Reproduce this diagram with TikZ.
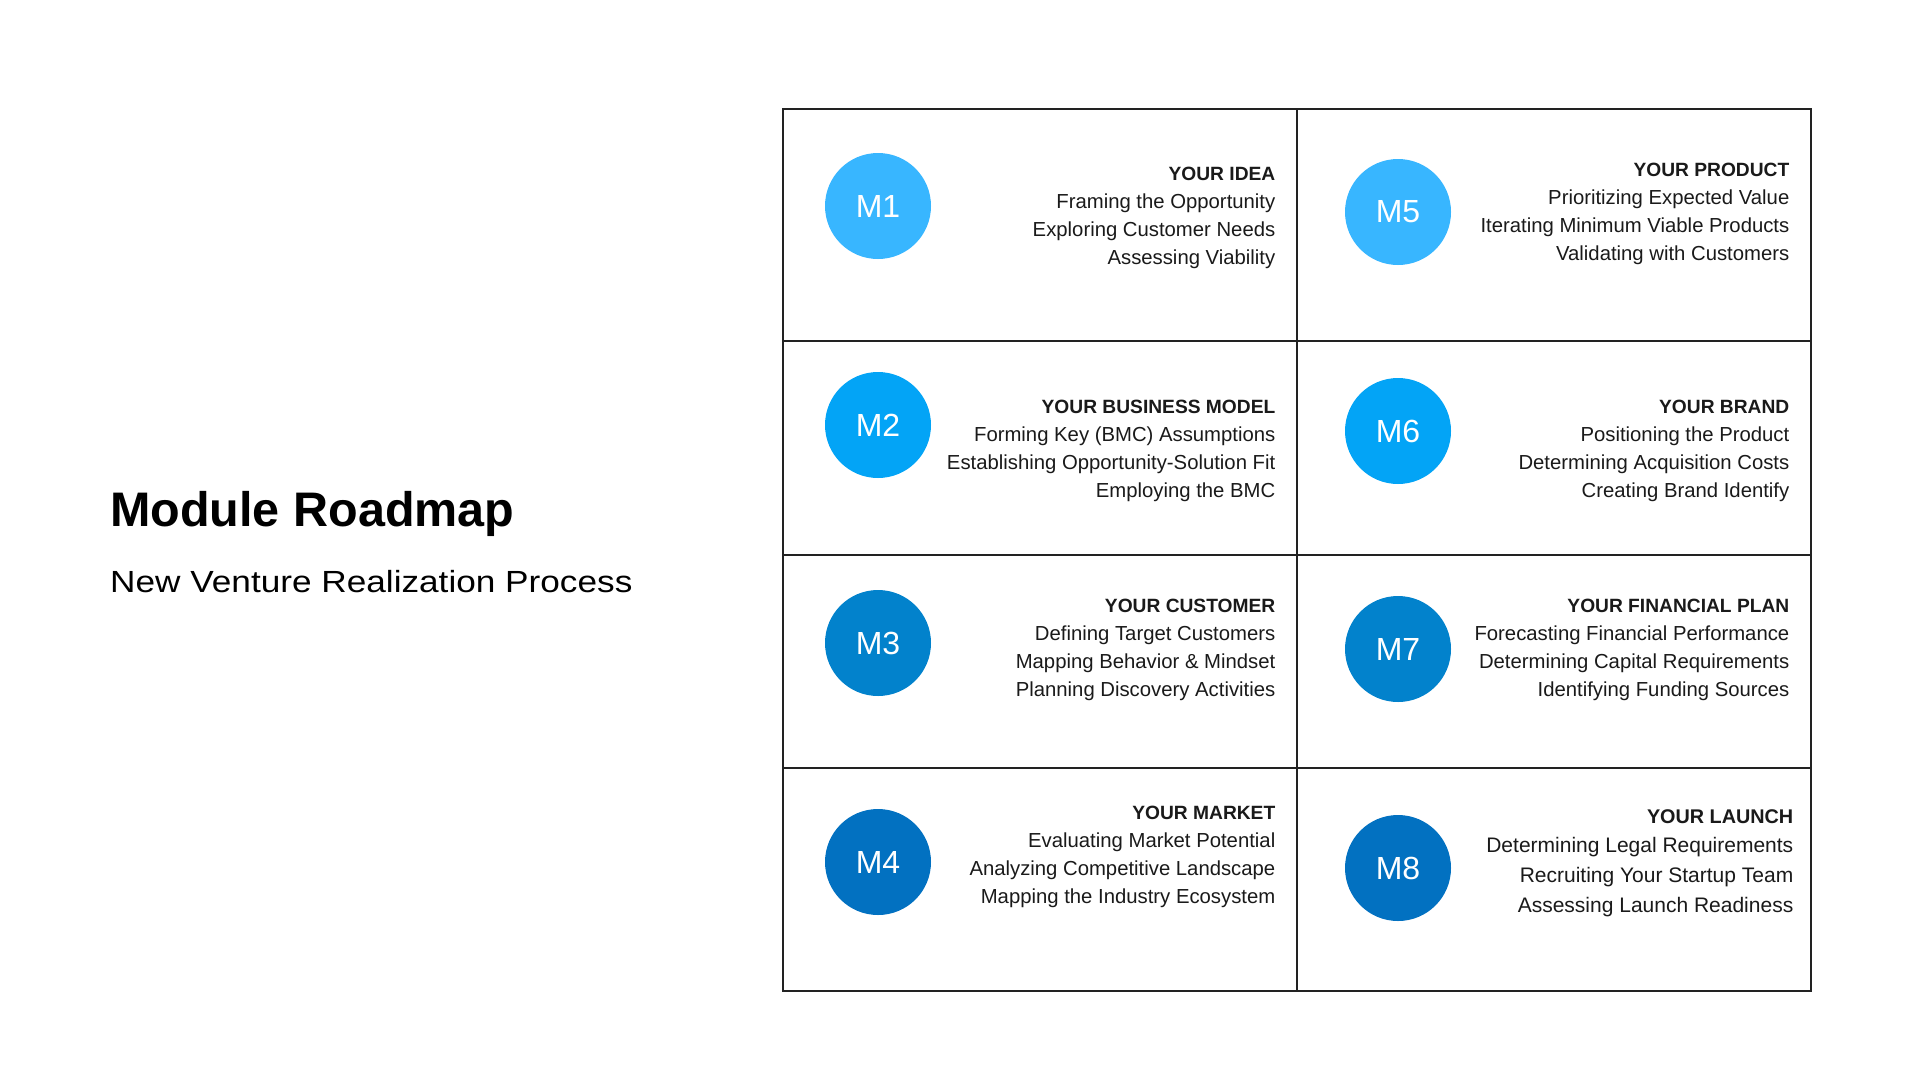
\documentclass[tikz,border=0pt]{standalone}
\usepackage{fontspec}
\setmainfont{Liberation Sans}
\newfontfamily\widefont[FakeStretch=1.15]{Liberation Sans}
\usepackage{tikz}
\usetikzlibrary{positioning}
\definecolor{CLight}{HTML}{38B6FF}
\definecolor{CMid}{HTML}{03A4F6}
\definecolor{CDeep}{HTML}{0282CC}
\definecolor{CNavy}{HTML}{0271C1}
\definecolor{CLine}{HTML}{222222}
\definecolor{CText}{HTML}{1A1A1A}

\begin{document}
\begin{tikzpicture}[x=1pt, y=-1pt,
    module/.style={circle, fill=#1, minimum size=106pt, inner sep=0pt, text=white, font=\fontsize{32}{32}\selectfont},
    topics/.style={anchor=north east, align=right, inner sep=0pt, text=CText, font=\fontsize{20.3}{28}\selectfont}]
    \useasboundingbox[fill=white] (0,0) rectangle (1920,1080);

    % Heading
    \node[anchor=base west, inner sep=0pt, font=\bfseries\fontsize{48.5}{48.5}\selectfont] (title) at (110,526) {Module Roadmap};
    \node[anchor=base west, inner sep=0pt, font=\widefont\fontsize{30.6}{30.6}\selectfont] (subtitle) at (110,592) {New Venture Realization Process};

    % Table
    \draw[CLine, line width=2pt] (782.5,109) rectangle (1811,990.5);
    \draw[CLine, line width=2pt] (1296.5,109) -- (1296.5,990.5);
    \draw[CLine, line width=2pt] (782.5,340.5) -- (1811,340.5);
    \draw[CLine, line width=2pt] (782.5,554.5) -- (1811,554.5);
    \draw[CLine, line width=2pt] (782.5,767.5) -- (1811,767.5);

    % Module 1
    \node[module=CLight] (m1) at (878,206) {M1};
    \node[topics] (m1txt) at (1275.5,167) {{\bfseries\fontsize{19.2}{28}\selectfont YOUR IDEA}\\Framing the Opportunity\\Exploring Customer Needs\\Assessing Viability};

    % Module 2
    \node[module=CMid] (m2) at (878,425) {M2};
    \node[topics] (m2txt) at (1275.5,399.5) {{\bfseries\fontsize{19.2}{28}\selectfont YOUR BUSINESS MODEL}\\Forming Key (BMC) Assumptions\\Establishing Opportunity-Solution Fit\\Employing the BMC};

    % Module 3
    \node[module=CDeep] (m3) at (878,643) {M3};
    \node[topics] (m3txt) at (1275.5,598.5) {{\bfseries\fontsize{19.2}{28}\selectfont YOUR CUSTOMER}\\Defining Target Customers\\Mapping Behavior \& Mindset\\Planning Discovery Activities};

    % Module 4
    \node[module=CNavy] (m4) at (878,862) {M4};
    \node[topics] (m4txt) at (1275.5,806) {{\bfseries\fontsize{19.2}{28}\selectfont YOUR MARKET}\\Evaluating Market Potential\\Analyzing Competitive Landscape\\Mapping the Industry Ecosystem};

    % Module 5
    \node[module=CLight] (m5) at (1398,212) {M5};
    \node[topics] (m5txt) at (1789.5,163) {{\bfseries\fontsize{19.2}{28}\selectfont YOUR PRODUCT}\\Prioritizing Expected Value\\Iterating Minimum Viable Products\\Validating with Customers};

    % Module 6
    \node[module=CMid] (m6) at (1398,431) {M6};
    \node[topics] (m6txt) at (1789.5,399.5) {{\bfseries\fontsize{19.2}{28}\selectfont YOUR BRAND}\\Positioning the Product\\Determining Acquisition Costs\\Creating Brand Identify};

    % Module 7
    \node[module=CDeep] (m7) at (1398,649) {M7};
    \node[topics] (m7txt) at (1789.5,598.5) {{\bfseries\fontsize{19.2}{28}\selectfont YOUR FINANCIAL PLAN}\\Forecasting Financial Performance\\Determining Capital Requirements\\Identifying Funding Sources};

    % Module 8
    \node[module=CNavy] (m8) at (1398,868) {M8};
    \node[topics, font=\fontsize{21}{29.7}\selectfont] (m8txt) at (1793.5,809) {{\bfseries\fontsize{19.8}{29.7}\selectfont YOUR LAUNCH}\\Determining Legal Requirements\\Recruiting Your Startup Team\\Assessing Launch Readiness};
\end{tikzpicture}
\end{document}
